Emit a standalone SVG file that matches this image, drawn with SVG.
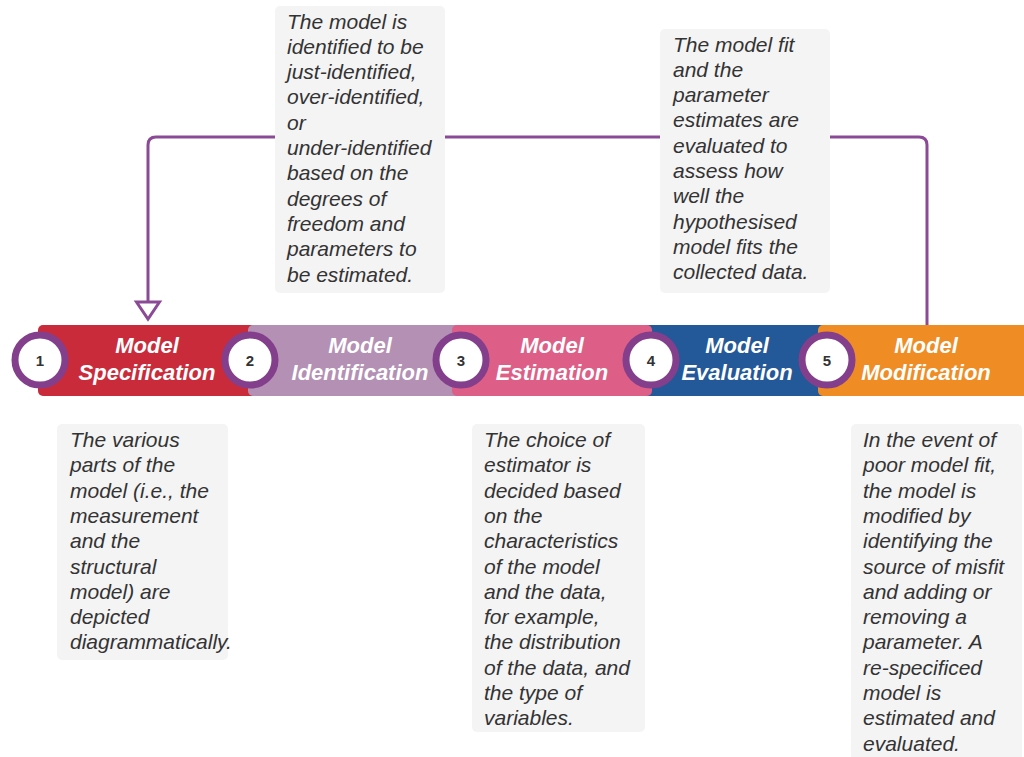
<svg xmlns="http://www.w3.org/2000/svg" width="1024" height="757" viewBox="0 0 1024 757">
  <style>
    .note { fill: #f4f4f4; }
    .note-text { font-family: "Liberation Sans", Arial, sans-serif; font-size: 21px; font-style: italic; fill: #333333; }
    .step-label { font-family: "Liberation Sans", Arial, sans-serif; font-size: 22px; font-style: italic; font-weight: bold; fill: #ffffff; text-anchor: middle; }
    .badge { fill: #ffffff; stroke: #833f8b; stroke-width: 7; }
    .badge-num { font-family: "Liberation Sans", Arial, sans-serif; font-size: 15px; font-weight: bold; fill: #333333; text-anchor: middle; }
    .link { fill: none; stroke: #8b4a96; stroke-width: 3; }
  </style>
  <defs>
    <marker id="hollowTri" markerUnits="userSpaceOnUse" markerWidth="26" markerHeight="30" viewBox="-22 -15 26 30" refX="0" refY="0" orient="auto" overflow="visible">
      <path d="M-17,-11.5 L0,0 L-17,11.5 Z" fill="#ffffff" stroke="#8b4a96" stroke-width="3"/>
    </marker>
  </defs>
  <rect width="1024" height="757" fill="#ffffff"/>

  <!-- feedback loop from Modification back to Specification -->
  <g id="connectors">
    <path class="link" d="M927,325 V145 Q927,137 919,137 H156 Q148,137 148,145 V319" marker-end="url(#hollowTri)"/>
  </g>

  <!-- process bar segments -->
  <g id="step1-bar"><rect x="38" y="325" width="230" height="71" rx="5" fill="#c92b3a"/></g>
  <g id="step2-bar"><rect x="248" y="325" width="220" height="71" rx="5" fill="#b390b4"/></g>
  <g id="step4-bar"><rect x="640" y="325" width="200" height="71" rx="5" fill="#235899"/></g>
  <g id="step3-bar"><rect x="452" y="325" width="200" height="71" rx="5" fill="#dd5e86"/></g>
  <g id="step5-bar"><rect x="818" y="325" width="220" height="71" rx="5" fill="#ef8c24"/></g>

  <g id="step1-label">
    <text class="step-label" x="147" y="353">Model</text>
    <text class="step-label" x="147" y="380">Specification</text>
  </g>
  <g id="step2-label">
    <text class="step-label" x="360" y="353">Model</text>
    <text class="step-label" x="360" y="380">Identification</text>
  </g>
  <g id="step3-label">
    <text class="step-label" x="552" y="353">Model</text>
    <text class="step-label" x="552" y="380">Estimation</text>
  </g>
  <g id="step4-label">
    <text class="step-label" x="737" y="353">Model</text>
    <text class="step-label" x="737" y="380">Evaluation</text>
  </g>
  <g id="step5-label">
    <text class="step-label" x="926" y="353">Model</text>
    <text class="step-label" x="926" y="380">Modification</text>
  </g>

  <!-- numbered badges -->
  <g id="badge1"><circle class="badge" cx="40" cy="360" r="25"/><text class="badge-num" x="40" y="365.5">1</text></g>
  <g id="badge2"><circle class="badge" cx="250" cy="360" r="25"/><text class="badge-num" x="250" y="365.5">2</text></g>
  <g id="badge3"><circle class="badge" cx="461" cy="360" r="25"/><text class="badge-num" x="461" y="365.5">3</text></g>
  <g id="badge4"><circle class="badge" cx="651" cy="360" r="25"/><text class="badge-num" x="651" y="365.5">4</text></g>
  <g id="badge5"><circle class="badge" cx="827" cy="360" r="25"/><text class="badge-num" x="827" y="365.5">5</text></g>

  <!-- description notes -->
  <g id="note-identification">
    <rect class="note" x="275" y="6" width="170" height="287" rx="5"/>
    <text class="note-text" x="287" y="28.5">
      <tspan x="287" dy="0">The model is</tspan>
      <tspan x="287" dy="25.3">identified to be</tspan>
      <tspan x="287" dy="25.3">just-identified,</tspan>
      <tspan x="287" dy="25.3">over-identified,</tspan>
      <tspan x="287" dy="25.3">or</tspan>
      <tspan x="287" dy="25.3">under-identified</tspan>
      <tspan x="287" dy="25.3">based on the</tspan>
      <tspan x="287" dy="25.3">degrees of</tspan>
      <tspan x="287" dy="25.3">freedom and</tspan>
      <tspan x="287" dy="25.3">parameters to</tspan>
      <tspan x="287" dy="25.3">be estimated.</tspan>
    </text>
  </g>

  <g id="note-evaluation">
    <rect class="note" x="660" y="29" width="170" height="264" rx="5"/>
    <text class="note-text" x="673" y="51.5">
      <tspan x="673" dy="0">The model fit</tspan>
      <tspan x="673" dy="25.3">and the</tspan>
      <tspan x="673" dy="25.3">parameter</tspan>
      <tspan x="673" dy="25.3">estimates are</tspan>
      <tspan x="673" dy="25.3">evaluated to</tspan>
      <tspan x="673" dy="25.3">assess how</tspan>
      <tspan x="673" dy="25.3">well the</tspan>
      <tspan x="673" dy="25.3">hypothesised</tspan>
      <tspan x="673" dy="25.3">model fits the</tspan>
      <tspan x="673" dy="25.3">collected data.</tspan>
    </text>
  </g>

  <g id="note-specification">
    <rect class="note" x="57" y="424" width="171" height="236" rx="5"/>
    <text class="note-text" x="70" y="447">
      <tspan x="70" dy="0">The various</tspan>
      <tspan x="70" dy="25.3">parts of the</tspan>
      <tspan x="70" dy="25.3">model (i.e., the</tspan>
      <tspan x="70" dy="25.3">measurement</tspan>
      <tspan x="70" dy="25.3">and the</tspan>
      <tspan x="70" dy="25.3">structural</tspan>
      <tspan x="70" dy="25.3">model) are</tspan>
      <tspan x="70" dy="25.3">depicted</tspan>
      <tspan x="70" dy="25.3">diagrammatically.</tspan>
    </text>
  </g>

  <g id="note-estimation">
    <rect class="note" x="472" y="424" width="173" height="308" rx="5"/>
    <text class="note-text" x="484" y="447">
      <tspan x="484" dy="0">The choice of</tspan>
      <tspan x="484" dy="25.3">estimator is</tspan>
      <tspan x="484" dy="25.3">decided based</tspan>
      <tspan x="484" dy="25.3">on the</tspan>
      <tspan x="484" dy="25.3">characteristics</tspan>
      <tspan x="484" dy="25.3">of the model</tspan>
      <tspan x="484" dy="25.3">and the data,</tspan>
      <tspan x="484" dy="25.3">for example,</tspan>
      <tspan x="484" dy="25.3">the distribution</tspan>
      <tspan x="484" dy="25.3">of the data, and</tspan>
      <tspan x="484" dy="25.3">the type of</tspan>
      <tspan x="484" dy="25.3">variables.</tspan>
    </text>
  </g>

  <g id="note-modification">
    <rect class="note" x="851" y="424" width="171" height="340" rx="5"/>
    <text class="note-text" x="863" y="447">
      <tspan x="863" dy="0">In the event of</tspan>
      <tspan x="863" dy="25.3">poor model fit,</tspan>
      <tspan x="863" dy="25.3">the model is</tspan>
      <tspan x="863" dy="25.3">modified by</tspan>
      <tspan x="863" dy="25.3">identifying the</tspan>
      <tspan x="863" dy="25.3">source of misfit</tspan>
      <tspan x="863" dy="25.3">and adding or</tspan>
      <tspan x="863" dy="25.3">removing a</tspan>
      <tspan x="863" dy="25.3">parameter. A</tspan>
      <tspan x="863" dy="25.3">re-specificed</tspan>
      <tspan x="863" dy="25.3">model is</tspan>
      <tspan x="863" dy="25.3">estimated and</tspan>
      <tspan x="863" dy="25.3">evaluated.</tspan>
    </text>
  </g>
</svg>
